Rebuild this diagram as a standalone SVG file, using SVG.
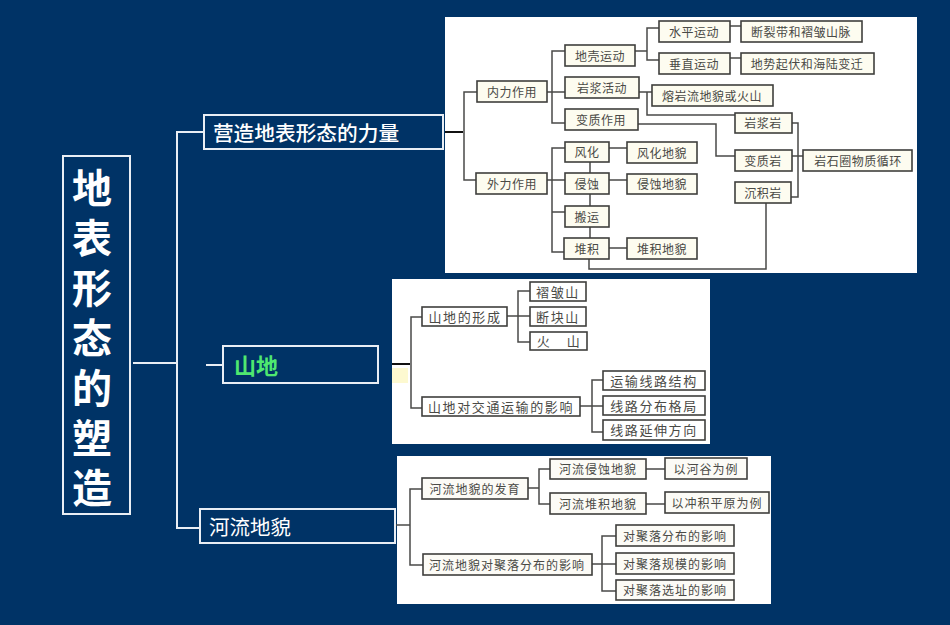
<svg xmlns="http://www.w3.org/2000/svg" width="950" height="625" viewBox="0 0 950 625">
<style>
text{font-family:"Noto Sans CJK SC","Noto Sans",sans-serif;text-anchor:middle;dominant-baseline:central}
.panel{fill:#fff}
.b1,.b2,.b3{stroke:#3f3f3d;stroke-width:1.6}
.b1{fill:#fdfcf0}.b2{fill:#fff}.b3{fill:#fcfbf6}
.t1,.t2,.t3{fill:#4a4a46}
.t1{font-size:12px;letter-spacing:.5px}
.t2{font-size:13px;letter-spacing:1.6px}
.t3{font-size:12px;letter-spacing:1px}
.main{fill:none;stroke:#e9eef4;stroke-width:2}
.wire{fill:none;stroke:#e9eef4;stroke-width:2}
.con{fill:none;stroke:#4a4a48;stroke-width:1.5}
.thick{fill:none;stroke:#111;stroke-width:2}
.wt{fill:#fff}
</style>
<rect width="950" height="625" fill="#003366"/>
<g id="panels">
<rect class="panel" x="445" y="17" width="472" height="256"/>
<rect class="panel" x="392" y="279" width="318" height="165"/>
<rect x="392" y="368" width="16" height="15" fill="#fdf9d0"/>
<rect class="panel" x="397" y="456" width="374" height="148"/>
</g>
<g id="connectors">
<path class="wire" d="M133 363H177M177 131V528M176 528H200M177 132H204M206 365H223"/>
<path class="thick" d="M445 132H463M392 364H410"/>
<path class="con" d="M396 525H410"/>
<path class="con" d="M477 92H464V180H476M547 92H565M565 51H552V123H565M635 51H647M659 28H647V60H659M730 26H741M730 58H741M639 92H652M647 92V115H735M638 124H716V156H735M792 123H798V197H791M792 156H803M766 203V269H589V259M547 180H565M565 148H552V252H564M552 212H565M609 148H627M609 180H627M609 248H627M590 162V173M590 194V206M590 227V238"/>
<path class="con" d="M422 317H411V408H422M507 316H530M530 291H518V342H530M580 406H603M603 380H592V432H603"/>
<path class="con" d="M422 489H410V565H423M528 488H539M550 469H539V504H550M646 469H665M646 504H665M592 564H616M616 536H602V591H616"/>
</g>
<g id="title"><rect class="main" x="63" y="156" width="67" height="358"/>
<text class="wt" font-size="40" font-weight="700"><tspan x="92" y="186">地</tspan><tspan x="92" y="236">表</tspan><tspan x="92" y="286">形</tspan><tspan x="92" y="336">态</tspan><tspan x="92" y="386">的</tspan><tspan x="92" y="436">塑</tspan><tspan x="92" y="486">造</tspan></text></g>
<g id="n-force"><rect class="main" x="204" y="115" width="239" height="34"/><text class="wt" x="306" y="132" font-size="20.7" font-weight="500">营造地表形态的力量</text></g>
<g id="n-mountain"><rect class="main" x="223" y="346" width="155" height="37"/><text x="256" y="364" font-size="22" font-weight="700" fill="#4fe870">山地</text></g>
<g id="n-river"><rect class="main" x="200" y="509" width="195" height="34"/><text class="wt" x="250" y="526" font-size="20.5">河流地貌</text></g>

<g id="a1"><rect class="b1" x="477" y="81" width="70" height="21"/><text class="t1" x="512" y="91">内力作用</text></g>
<g id="a2"><rect class="b1" x="476" y="173" width="71" height="21"/><text class="t1" x="512" y="183">外力作用</text></g>
<g id="a3"><rect class="b1" x="565" y="45" width="70" height="21"/><text class="t1" x="600" y="55">地壳运动</text></g>
<g id="a4"><rect class="b1" x="565" y="77" width="74" height="21"/><text class="t1" x="602" y="87">岩浆活动</text></g>
<g id="a5"><rect class="b1" x="565" y="109" width="73" height="21"/><text class="t1" x="601" y="119">变质作用</text></g>
<g id="a6"><rect class="b1" x="659" y="21" width="71" height="21"/><text class="t1" x="694" y="31">水平运动</text></g>
<g id="a7"><rect class="b1" x="659" y="53" width="71" height="21"/><text class="t1" x="694" y="63">垂直运动</text></g>
<g id="a8"><rect class="b1" x="741" y="21" width="121" height="21"/><text class="t1" x="801" y="31">断裂带和褶皱山脉</text></g>
<g id="a9"><rect class="b1" x="741" y="53" width="133" height="21"/><text class="t1" x="807" y="63">地势起伏和海陆变迁</text></g>
<g id="a10"><rect class="b1" x="652" y="85" width="121" height="21"/><text class="t1" x="712" y="95">熔岩流地貌或火山</text></g>
<g id="a11"><rect class="b1" x="735" y="113" width="57" height="20"/><text class="t1" x="763" y="122.500">岩浆岩</text></g>
<g id="a12"><rect class="b1" x="735" y="150" width="57" height="21"/><text class="t1" x="763" y="160">变质岩</text></g>
<g id="a13"><rect class="b1" x="735" y="182" width="56" height="21"/><text class="t1" x="763" y="192">沉积岩</text></g>
<g id="a14"><rect class="b1" x="803" y="150" width="109" height="21"/><text class="t1" x="858" y="160">岩石圈物质循环</text></g>
<g id="a15"><rect class="b1" x="565" y="142" width="44" height="20"/><text class="t1" x="587" y="151.500">风化</text></g>
<g id="a16"><rect class="b1" x="565" y="173" width="44" height="21"/><text class="t1" x="587" y="183">侵蚀</text></g>
<g id="a17"><rect class="b1" x="565" y="206" width="44" height="21"/><text class="t1" x="587" y="216">搬运</text></g>
<g id="a18"><rect class="b1" x="564" y="238" width="45" height="21"/><text class="t1" x="587" y="248">堆积</text></g>
<g id="a19"><rect class="b1" x="627" y="142" width="70" height="21"/><text class="t1" x="662" y="152">风化地貌</text></g>
<g id="a20"><rect class="b1" x="627" y="174" width="70" height="20"/><text class="t1" x="662" y="183.500">侵蚀地貌</text></g>
<g id="a21"><rect class="b1" x="627" y="238" width="70" height="21"/><text class="t1" x="662" y="248">堆积地貌</text></g>

<g id="b1"><rect class="b2" x="422" y="307" width="85" height="19"/><text class="t2" x="465" y="316">山地的形成</text></g>
<g id="b2"><rect class="b2" x="530" y="282" width="56" height="19"/><text class="t2" x="558" y="291">褶皱山</text></g>
<g id="b3"><rect class="b2" x="530" y="307" width="56" height="19"/><text class="t2" x="558" y="316">断块山</text></g>
<g id="b4"><rect class="b2" x="530" y="332" width="57" height="18"/><text class="t2" x="559" y="340.500" word-spacing="11px">火 山</text></g>
<g id="b5"><rect class="b2" x="422" y="397" width="158" height="19"/><text class="t2" x="501" y="406">山地对交通运输的影响</text></g>
<g id="b6"><rect class="b2" x="603" y="371" width="102" height="19"/><text class="t2" x="654" y="380">运输线路结构</text></g>
<g id="b7"><rect class="b2" x="603" y="396" width="102" height="19"/><text class="t2" x="654" y="405">线路分布格局</text></g>
<g id="b8"><rect class="b2" x="603" y="420" width="102" height="20"/><text class="t2" x="654" y="429.500">线路延伸方向</text></g>

<g id="c1"><rect class="b3" x="422" y="478" width="106" height="21"/><text class="t3" x="475" y="488">河流地貌的发育</text></g>
<g id="c2"><rect class="b3" x="550" y="459" width="96" height="20"/><text class="t3" x="598" y="468.500">河流侵蚀地貌</text></g>
<g id="c3"><rect class="b3" x="550" y="493" width="96" height="21"/><text class="t3" x="598" y="503">河流堆积地貌</text></g>
<g id="c4"><rect class="b3" x="665" y="458" width="82" height="21"/><text class="t3" x="706" y="468">以河谷为例</text></g>
<g id="c5"><rect class="b3" x="665" y="492" width="104" height="21"/><text class="t3" x="717" y="502">以冲积平原为例</text></g>
<g id="c6"><rect class="b3" x="423" y="554" width="169" height="21"/><text class="t3" x="507" y="564">河流地貌对聚落分布的影响</text></g>
<g id="c7"><rect class="b3" x="616" y="525" width="118" height="21"/><text class="t3" x="675" y="535">对聚落分布的影响</text></g>
<g id="c8"><rect class="b3" x="616" y="553" width="118" height="21"/><text class="t3" x="675" y="563">对聚落规模的影响</text></g>
<g id="c9"><rect class="b3" x="616" y="580" width="118" height="20"/><text class="t3" x="675" y="589.500">对聚落选址的影响</text></g>
</svg>
